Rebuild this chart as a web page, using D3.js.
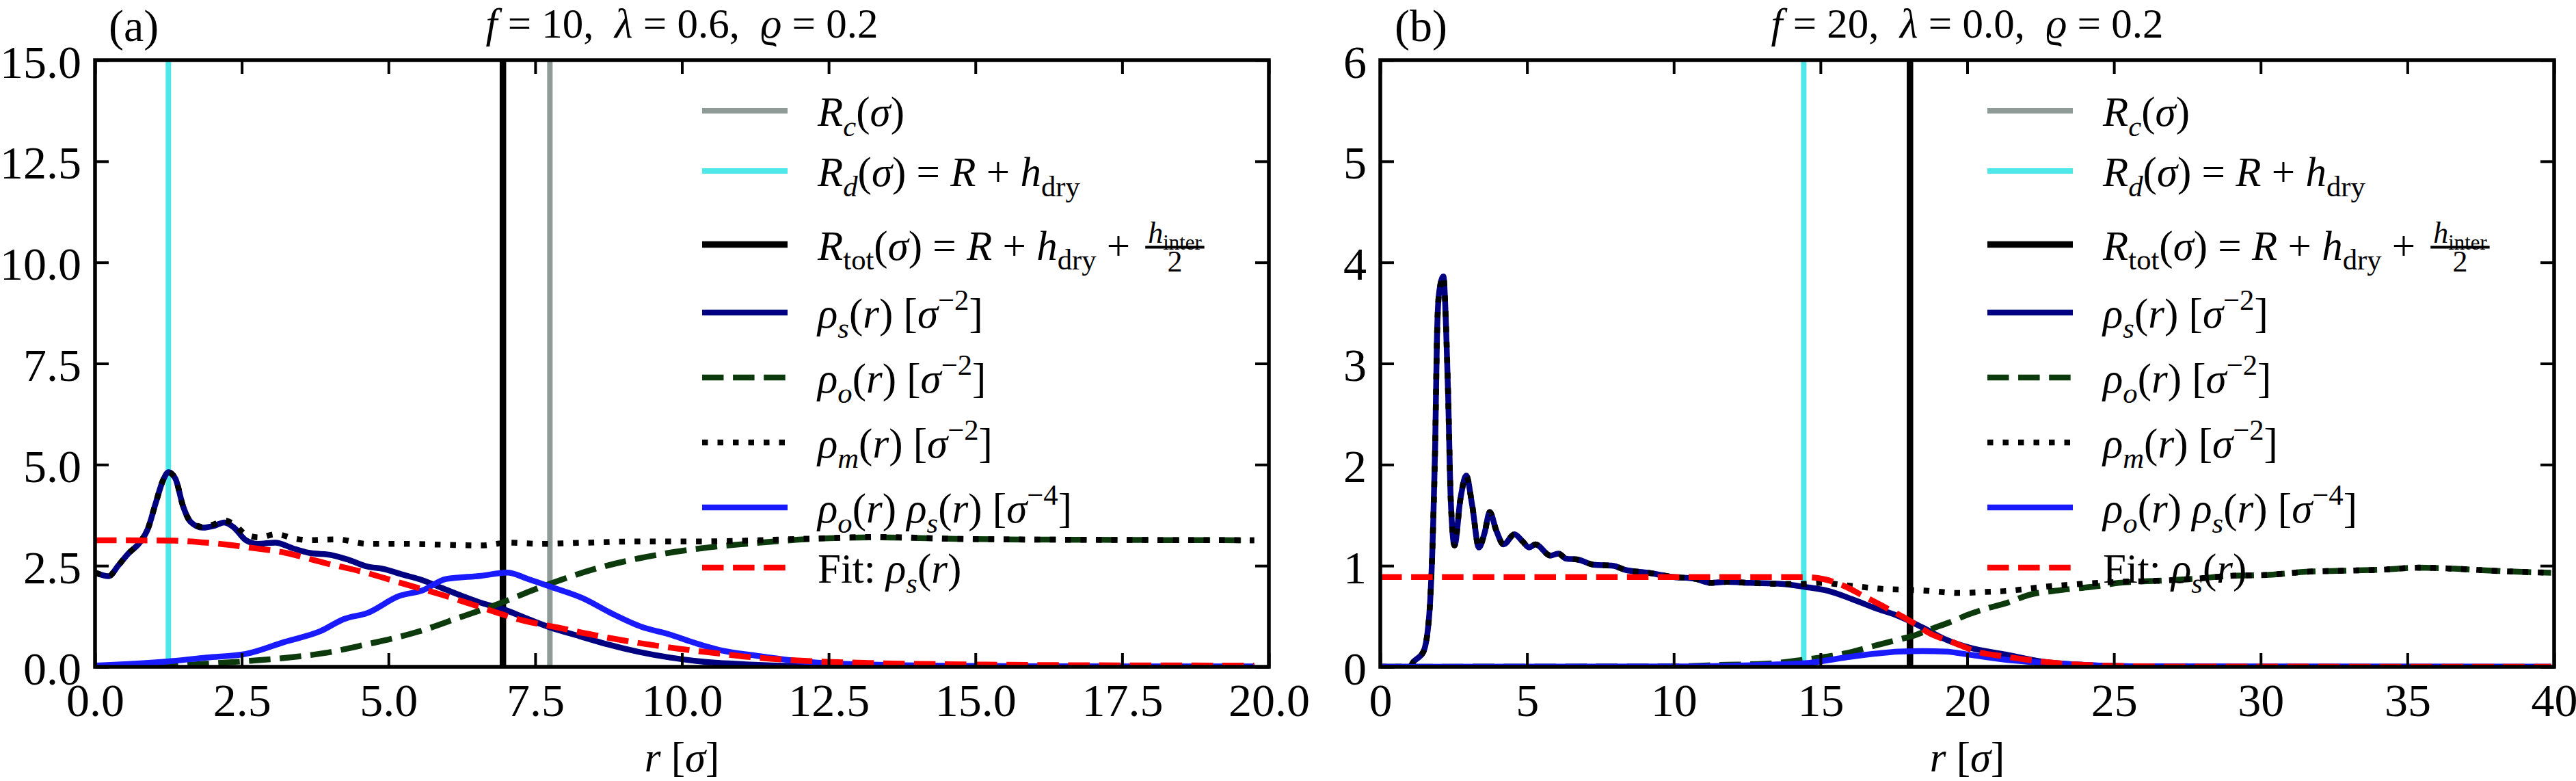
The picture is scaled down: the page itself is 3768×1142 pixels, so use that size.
<!DOCTYPE html>
<html><head><meta charset="utf-8">
<script src="https://cdnjs.cloudflare.com/ajax/libs/d3/7.8.5/d3.min.js"></script>
<style>
html,body{margin:0;padding:0;background:#fff;}
svg{display:block;background:#fff;}
text{font-family:"Liberation Serif","Times New Roman",serif;fill:#000;white-space:pre;}
</style></head><body>
<svg id="chart" width="3768" height="1142"></svg>
<script>
// ---------------- DATA ----------------
// Panel (a): f = 10, lambda = 0.6, rho = 0.2
const xTicksA = [0, 2.5, 5, 7.5, 10, 12.5, 15, 17.5, 20];
const xTickLabelsA = ["0.0","2.5","5.0","7.5","10.0","12.5","15.0","17.5","20.0"];
const yTicksA = [0, 2.5, 5, 7.5, 10, 12.5, 15];
const yTickLabelsA = ["0.0","2.5","5.0","7.5","10.0","12.5","15.0"];

const a_rhoS_r = [0.0,0.23,0.40,0.56,0.76,0.90,1.03,1.17,1.25,1.37,1.50,1.63,1.83,2.04,2.20,2.37,2.57,2.77,3.07,3.37,3.64,4.04,4.31,4.64,4.91,5.24,5.58,5.91,6.31,6.58,6.98,7.38,7.78,8.25,8.72,9.26,9.79,10.33,11.09,12.0,13.0,15.0,17.5,19.75];
const a_rhoS   = [2.33,2.24,2.51,2.79,3.07,3.41,4.03,4.65,4.81,4.65,3.97,3.58,3.44,3.49,3.57,3.44,3.13,3.04,3.07,2.93,2.82,2.76,2.65,2.48,2.42,2.28,2.14,1.95,1.72,1.58,1.41,1.18,0.96,0.76,0.56,0.37,0.23,0.13,0.06,0.02,0.01,0.0,0.0,0.0];

const a_rhoO_r = [0.0,1.0,1.70,2.57,3.24,3.91,4.58,5.51,6.25,6.92,7.45,7.92,8.59,9.26,10.33,11.09,12.2,13.3,14.8,17.0,19.75];
const a_rhoO   = [0.0,0.01,0.06,0.14,0.22,0.34,0.54,0.87,1.24,1.58,1.89,2.14,2.45,2.68,2.93,3.04,3.16,3.20,3.16,3.14,3.13];

const a_rhoM_r = [0.0,0.23,0.40,0.56,0.76,0.90,1.03,1.17,1.25,1.37,1.50,1.63,1.83,2.04,2.20,2.37,2.57,2.80,3.08,3.40,3.64,4.12,4.65,5.24,5.91,6.58,7.05,7.58,8.39,9.26,10.33,11.09,12.2,13.3,14.8,17.0,19.75];
const a_rhoM   = [2.33,2.24,2.51,2.79,3.07,3.41,4.03,4.65,4.81,4.65,3.97,3.58,3.46,3.53,3.62,3.52,3.27,3.20,3.28,3.17,3.13,3.15,3.04,3.04,3.02,3.00,3.07,3.04,3.07,3.10,3.10,3.12,3.17,3.21,3.16,3.14,3.13];

const a_prod_r = [0.0,1.23,1.90,2.57,3.24,3.84,4.24,4.64,5.18,5.58,5.98,6.58,7.02,7.38,7.78,8.32,8.79,9.31,9.79,10.2,10.72,11.24,11.99,13.0,15.0,17.5,19.75];
const a_prod   = [0.03,0.13,0.23,0.32,0.62,0.88,1.18,1.33,1.75,1.89,2.17,2.25,2.33,2.17,1.97,1.69,1.33,0.99,0.80,0.60,0.39,0.28,0.14,0.06,0.02,0.01,0.01];

const a_fit_r = [0.0,1.3,1.9,2.57,3.24,3.91,4.58,5.24,5.91,6.58,7.25,7.92,8.59,9.26,9.98,10.5,11.09,12.2,13.3,14.8,16.5,19.75];
const a_fit   = [3.13,3.12,3.07,2.96,2.82,2.57,2.34,2.06,1.78,1.47,1.16,0.96,0.76,0.59,0.44,0.35,0.25,0.14,0.09,0.06,0.04,0.03];

const a_vlines = [7.75, 1.25, 6.95]; // R_c, R_d, R_tot

// Panel (b): f = 20, lambda = 0.0, rho = 0.2
const xTicksB = [0, 5, 10, 15, 20, 25, 30, 35, 40];
const xTickLabelsB = ["0","5","10","15","20","25","30","35","40"];
const yTicksB = [0, 1, 2, 3, 4, 5, 6];
const yTickLabelsB = ["0","1","2","3","4","5","6"];

const b_rhoS_r = [0.0,1.0,1.13,1.47,1.67,1.80,1.87,1.93,2.0,2.15,2.24,2.31,2.40,2.53,2.73,2.93,3.13,3.36,3.55,3.73,3.95,4.20,4.57,4.85,5.07,5.29,5.8,6.07,6.33,6.73,7.27,7.93,8.33,9.13,9.93,10.73,11.27,11.8,12.6,13.67,14.47,15.27,16.07,16.87,17.67,18.47,19.27,20.07,21.33,22.6,23.9,25.5,30.0,35.0,39.9];
const b_rhoS   = [0.0,0.0,0.05,0.15,0.52,1.39,2.18,3.24,3.69,3.86,3.37,2.71,1.66,1.20,1.66,1.89,1.60,1.18,1.32,1.53,1.35,1.21,1.31,1.24,1.18,1.21,1.10,1.12,1.07,1.06,1.01,1.00,0.96,0.93,0.89,0.87,0.83,0.84,0.83,0.82,0.79,0.75,0.67,0.58,0.50,0.39,0.27,0.19,0.12,0.05,0.02,0.005,0.0,0.0,0.0];

const b_rhoM_r = [0.0,1.0,1.13,1.47,1.67,1.80,1.87,1.93,2.0,2.15,2.24,2.31,2.40,2.53,2.73,2.93,3.13,3.36,3.55,3.73,3.95,4.20,4.57,4.85,5.07,5.29,5.8,6.07,6.33,6.73,7.27,7.93,8.33,9.13,9.93,10.73,11.27,11.8,12.6,13.67,14.47,15.0,16.07,17.13,18.07,18.73,19.73,20.6,21.33,22.6,23.9,25.16,26.44,27.7,29.0,30.3,31.55,32.8,34.1,35.4,36.6,37.9,39.9];
const b_rhoM   = [0.0,0.0,0.05,0.15,0.52,1.39,2.18,3.24,3.69,3.86,3.37,2.71,1.66,1.20,1.66,1.89,1.60,1.18,1.32,1.53,1.35,1.21,1.31,1.24,1.18,1.21,1.10,1.12,1.07,1.06,1.01,1.00,0.96,0.93,0.89,0.87,0.83,0.84,0.83,0.82,0.82,0.83,0.80,0.77,0.76,0.75,0.73,0.74,0.75,0.79,0.82,0.84,0.85,0.87,0.90,0.91,0.94,0.95,0.96,0.98,0.97,0.95,0.93];

const b_rhoO_r = [0.0,10.0,11.8,13.13,14.43,15.8,16.87,17.67,18.2,18.73,19.4,20.07,20.7,21.33,22.09,23.24,24.5,25.16,26.44,27.7,29.0,30.3,31.55,32.8,34.1,35.4,36.6,37.9,39.9];
const b_rhoO   = [0.0,0.005,0.02,0.03,0.07,0.13,0.21,0.27,0.31,0.37,0.44,0.52,0.58,0.63,0.71,0.76,0.80,0.83,0.85,0.87,0.90,0.91,0.94,0.95,0.96,0.98,0.97,0.95,0.93];

const b_prod_r = [0.0,10.0,13.13,14.47,15.8,16.87,17.67,18.47,19.27,20.07,21.33,22.6,23.9,26.0,39.9];
const b_prod   = [0.0,0.003,0.02,0.035,0.09,0.13,0.15,0.155,0.15,0.12,0.07,0.04,0.02,0.005,0.0];

const b_fit_r = [0.0,14.47,15.13,15.8,16.47,17.13,18.07,18.73,19.53,20.33,21.33,22.6,23.9,25.2,27.0,39.9];
const b_fit   = [0.887,0.887,0.866,0.80,0.70,0.60,0.45,0.33,0.24,0.15,0.10,0.05,0.02,0.008,0.002,0.0];

const b_vlines = [18.05, 14.43, 18.05]; // R_c, R_d, R_tot

const titlesA = [["f","i"],[" = 10,  ","n"],["λ","i"],[" = 0.6,  ","n"],["ϱ","i"],[" = 0.2","n"]];
const titlesB = [["f","i"],[" = 20,  ","n"],["λ","i"],[" = 0.0,  ","n"],["ϱ","i"],[" = 0.2","n"]];

// ---------------- STYLE / LAYOUT ----------------
const LW = 8.5;
const styles = {
  Rc:   {color:"#8e9b97", width:8, dash:null},
  Rd:   {color:"#4fe8e8", width:8, dash:null},
  Rtot: {color:"#000000", width:9.5, dash:null},
  rhoS: {color:"#000080", width:LW, dash:null},
  rhoO: {color:"#0c3a0c", width:LW, dash:"31.5,13.6"},
  rhoM: {color:"#000000", width:LW, dash:"8.5,14"},
  prod: {color:"#1a1aff", width:LW, dash:null},
  fit:  {color:"#ff0000", width:LW, dash:"31.5,13.6"}
};

const svg = d3.select("#chart");
svg.append("rect").attr("width",3768).attr("height",1142).attr("fill","#fff");

function mathText(g, x, y, segs, fs, anchor) {
  const t = g.append("text").attr("x", x).attr("y", y).attr("font-size", fs)
    .attr("text-anchor", anchor || "start");
  let cur = 0;
  segs.forEach(([txt, st]) => {
    let off = 0, size = fs;
    if (st[0] === "b") { off = 0.24 * fs; size = 0.7 * fs; }
    if (st[0] === "p") { off = -0.42 * fs; size = 0.7 * fs; }
    const ts = t.append("tspan").text(txt).attr("font-size", size).attr("dy", off - cur);
    if (st.endsWith("i")) ts.attr("font-style", "italic");
    cur = off;
  });
  return t;
}

const legendEntries = [
  {key:"Rc", segs:[["R","i"],["c","bi"],["(","n"],["σ","i"],[")","n"]]},
  {key:"Rd", segs:[["R","i"],["d","bi"],["(","n"],["σ","i"],[") = ","n"],["R","i"],[" + ","n"],["h","i"],["dry","bn"]]},
  {key:"Rtot", segs:[["R","i"],["tot","bn"],["(","n"],["σ","i"],[") = ","n"],["R","i"],[" + ","n"],["h","i"],["dry","bn"],[" +","n"]], frac:true},
  {key:"rhoS", segs:[["ρ","i"],["s","bi"],["(","n"],["r","i"],[") [","n"],["σ","i"],["−2","pn"],["]","n"]]},
  {key:"rhoO", segs:[["ρ","i"],["o","bi"],["(","n"],["r","i"],[") [","n"],["σ","i"],["−2","pn"],["]","n"]]},
  {key:"rhoM", segs:[["ρ","i"],["m","bi"],["(","n"],["r","i"],[") [","n"],["σ","i"],["−2","pn"],["]","n"]]},
  {key:"prod", segs:[["ρ","i"],["o","bi"],["(","n"],["r","i"],[") ","n"],["ρ","i"],["s","bi"],["(","n"],["r","i"],[") [","n"],["σ","i"],["−4","pn"],["]","n"]]},
  {key:"fit", segs:[["Fit: ","n"],["ρ","i"],["s","bi"],["(","n"],["r","i"],[")","n"]]}
];
const legendY = [162, 250, 357.5, 457, 552, 647, 742, 830];

function drawPanel(cfg) {
  const {left, right, top, bottom} = cfg.box;
  const x = d3.scaleLinear().domain(cfg.xDomain).range([left, right]);
  const y = d3.scaleLinear().domain(cfg.yDomain).range([bottom, top]);
  const g = svg.append("g");

  const clipId = "clip" + cfg.id;
  svg.append("clipPath").attr("id", clipId).append("rect")
    .attr("x", left).attr("y", top).attr("width", right - left).attr("height", bottom - top);
  const plot = g.append("g").attr("clip-path", `url(#${clipId})`);

  // vertical lines
  ["Rc","Rd","Rtot"].forEach((k, i) => {
    const s = styles[k];
    plot.append("line").attr("x1", x(cfg.vlines[i])).attr("x2", x(cfg.vlines[i]))
      .attr("y1", y(cfg.yDomain[0])).attr("y2", y(cfg.yDomain[1]))
      .attr("stroke", s.color).attr("stroke-width", s.width);
  });

  const line = d3.line().x(d => x(d[0])).y(d => y(d[1])).curve(d3.curveMonotoneX);
  cfg.series.forEach(sr => {
    const s = styles[sr.key];
    const data = sr.r.map((r, i) => [r, sr.v[i]]);
    plot.append("path").datum(data).attr("d", line)
      .attr("fill", "none").attr("stroke", s.color).attr("stroke-width", s.width)
      .attr("stroke-dasharray", s.dash).attr("stroke-linejoin", "round").attr("stroke-linecap", "butt");
  });

  // ticks (inward, all four sides)
  const TL = 20, TW = 4;
  const axB = d3.axisBottom(x).tickValues(cfg.xTicks).tickSizeInner(-TL).tickSizeOuter(0).tickFormat((d,i) => cfg.xTickLabels[i]);
  const axT = d3.axisTop(x).tickValues(cfg.xTicks).tickSizeInner(-TL).tickSizeOuter(0).tickFormat("");
  const axL = d3.axisLeft(y).tickValues(cfg.yTicks).tickSizeInner(-TL).tickSizeOuter(0).tickFormat((d,i) => cfg.yTickLabels[i]);
  const axR = d3.axisRight(y).tickValues(cfg.yTicks).tickSizeInner(-TL).tickSizeOuter(0).tickFormat("");
  const gB = g.append("g").attr("transform", `translate(0,${bottom})`).call(axB);
  const gT = g.append("g").attr("transform", `translate(0,${top})`).call(axT);
  const gL = g.append("g").attr("transform", `translate(${left},0)`).call(axL);
  const gR = g.append("g").attr("transform", `translate(${right},0)`).call(axR);
  [gB, gT, gL, gR].forEach(a => {
    a.select(".domain").remove();
    a.selectAll(".tick line").attr("stroke", "#000").attr("stroke-width", TW);
    a.selectAll(".tick text").attr("font-family", "Liberation Serif, serif").attr("font-size", 68).attr("fill", "#000");
  });
  gB.selectAll(".tick text").attr("y", 72).attr("dy", 0);
  gL.selectAll(".tick text").attr("x", -20).attr("dy", 0).attr("y", 25);

  // spines
  g.append("rect").attr("x", left).attr("y", top).attr("width", right - left).attr("height", bottom - top)
    .attr("fill", "none").attr("stroke", "#000").attr("stroke-width", 5.5);

  // title, panel label, axis label
  mathText(g, (left + right) / 2, 55, cfg.title, 61, "middle");
  g.append("text").attr("x", left + cfg.labelDx).attr("y", 60).attr("font-size", 66).text(cfg.label);
  mathText(g, (left + right) / 2, 1128, [["r","i"],[" [","n"],["σ","i"],["]","n"]], 61, "middle");

  // legend
  const lg = g.append("g");
  legendEntries.forEach((e, i) => {
    const s = styles[e.key];
    const ly = legendY[i];
    lg.append("line").attr("x1", right - 829).attr("x2", right - 704).attr("y1", ly).attr("y2", ly)
      .attr("stroke", s.color).attr("stroke-width", s.width).attr("stroke-dasharray", s.dash);
    const t = mathText(lg, right - 660, ly + 22, e.segs, 61, "start");
    if (e.frac) {
      const bb = t.node().getBBox();
      const fx = bb.x + bb.width + 22;
      const fs = 44;
      const num = mathText(lg, fx, ly - 3, [["h","i"],["inter","bn"]], fs, "start");
      const nb = num.node().getBBox();
      const w = nb.width + 8;
      num.attr("x", fx + 4);
      lg.append("line").attr("x1", fx).attr("x2", fx + w).attr("y1", ly + 4).attr("y2", ly + 4)
        .attr("stroke", "#000").attr("stroke-width", 4);
      lg.append("text").attr("x", fx + w / 2).attr("y", ly + 39).attr("font-size", fs)
        .attr("text-anchor", "middle").text("2");
    }
  });
}

drawPanel({
  id: "A", box: {left:139, right:1856, top:88, bottom:975},
  xDomain:[0,20], yDomain:[0,15],
  xTicks: xTicksA, xTickLabels: xTickLabelsA, yTicks: yTicksA, yTickLabels: yTickLabelsA,
  vlines: a_vlines, title: titlesA, label: "(a)", labelDx: 20,
  series: [
    {key:"rhoS", r:a_rhoS_r, v:a_rhoS},
    {key:"rhoO", r:a_rhoO_r, v:a_rhoO},
    {key:"rhoM", r:a_rhoM_r, v:a_rhoM},
    {key:"prod", r:a_prod_r, v:a_prod},
    {key:"fit",  r:a_fit_r,  v:a_fit}
  ]
});
drawPanel({
  id: "B", box: {left:2019, right:3736, top:88, bottom:975},
  xDomain:[0,40], yDomain:[0,6],
  xTicks: xTicksB, xTickLabels: xTickLabelsB, yTicks: yTicksB, yTickLabels: yTickLabelsB,
  vlines: b_vlines, title: titlesB, label: "(b)", labelDx: 21,
  series: [
    {key:"rhoS", r:b_rhoS_r, v:b_rhoS},
    {key:"rhoO", r:b_rhoO_r, v:b_rhoO},
    {key:"rhoM", r:b_rhoM_r, v:b_rhoM},
    {key:"prod", r:b_prod_r, v:b_prod},
    {key:"fit",  r:b_fit_r,  v:b_fit}
  ]
});
</script>
</body></html>
